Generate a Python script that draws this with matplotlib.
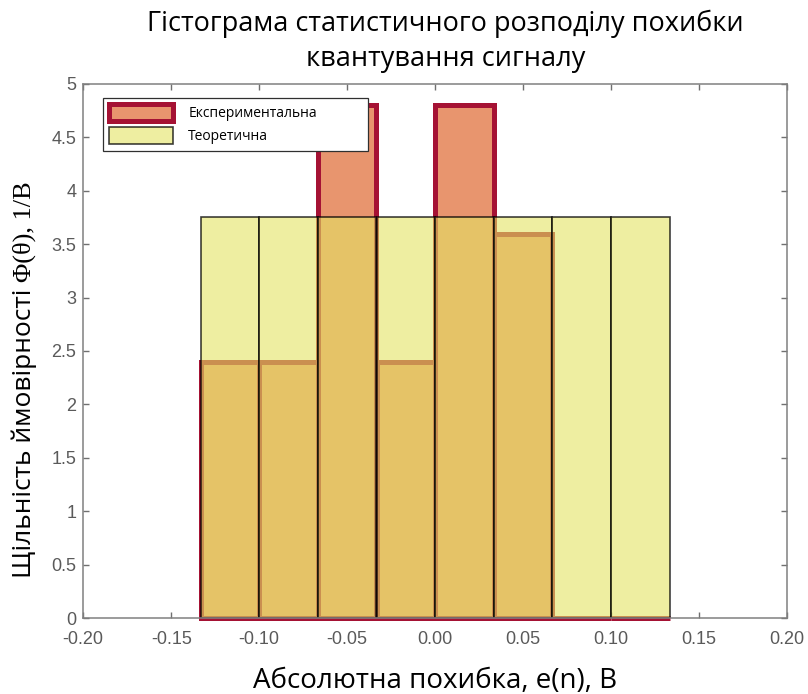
import numpy as np
import matplotlib.pyplot as plt

# ---------- data ------------------------------------
bin_left = [-0.1333, -0.1000, -0.0667, -0.0333, 0.0000, 0.0333, 0.0667, 0.1000]
bin_width = 0.0333
exp_density = [2.4, 2.4, 4.8, 2.4, 4.8, 3.6, 0.0, 0.0]      # Експериментальна
theor_density = [3.75, 3.75, 3.75, 3.75, 3.75, 3.75, 3.75, 3.75]  # Теоретична

x_ticks = [-0.20, -0.15, -0.10, -0.05, 0.00, 0.05, 0.10, 0.15, 0.20]
y_ticks = [0, 0.5, 1, 1.5, 2, 2.5, 3, 3.5, 4, 4.5, 5]

SANS = ['Open Sans', 'DejaVu Sans']
plt.rcParams['font.family'] = SANS

fig = plt.figure(figsize=(8.08, 6.94), dpi=100)
ax = fig.add_axes([0.103, 0.1095, 0.871, 0.7695])

ax.bar(bin_left, exp_density, width=bin_width, align='edge',
       color='#E8956E', edgecolor='#A51234', linewidth=3.6,
       clip_on=False, zorder=2, label='Експериментальна')
ax.bar(bin_left, theor_density, width=bin_width, align='edge',
       color=(227/255, 227/255, 99/255, 0.6), edgecolor=(0, 0, 0, 0.75),
       linewidth=1.2, zorder=3, label='Теоретична')

ax.set_xlim(-0.2, 0.2)
ax.set_ylim(0, 5)
ax.set_xticks(x_ticks)
ax.set_xticklabels([f'{t:.2f}' for t in x_ticks])
ax.set_yticks(y_ticks)
ax.set_yticklabels([f'{t:g}' for t in y_ticks])

for lab in ax.get_xticklabels() + ax.get_yticklabels():
    lab.set_family('Liberation Sans')
    lab.set_fontsize(13)
    lab.set_color('#5a5a5a')
ax.tick_params(direction='in', top=True, right=True, length=4, width=1,
               color='#707070')
ax.tick_params(axis='x', pad=9)
ax.tick_params(axis='y', pad=5)
for sp in ax.spines.values():
    sp.set_color('#808080')
    sp.set_linewidth(1.1)
    sp.set_zorder(4)

leg = ax.legend(loc='upper left', bbox_to_anchor=(0.028, 0.0, 0.376, 0.974),
                mode='expand', borderaxespad=0, fontsize=10, handlelength=4.6,
                handleheight=1.5, fancybox=False, framealpha=1,
                edgecolor='#303030', borderpad=0.45, labelspacing=0.45,
                handletextpad=1.1)
leg.get_frame().set_linewidth(0.9)

ax.set_title('Гістограма статистичного розподілу похибки\nквантування сигналу',
             fontsize=19.5, pad=13, linespacing=1.35, x=0.515)
ax.set_xlabel('Абсолютна похибка, e(n), В', fontsize=20, labelpad=14)

# y label: sans part + serif part, both rotated
t1 = fig.text(0.03, (694 - 578) / 694, 'Щільність ймовірності ', rotation=90,
              fontsize=19, ha='center', va='bottom', family=SANS)
fig.canvas.draw()
bb = t1.get_window_extent(fig.canvas.get_renderer())
fig.text(0.03, bb.y1 / fig.bbox.height, 'Φ(θ), 1/В', rotation=90,
         fontsize=19, ha='center', va='bottom',
         family=['Liberation Serif', 'DejaVu Serif'])

plt.savefig('out.png')
